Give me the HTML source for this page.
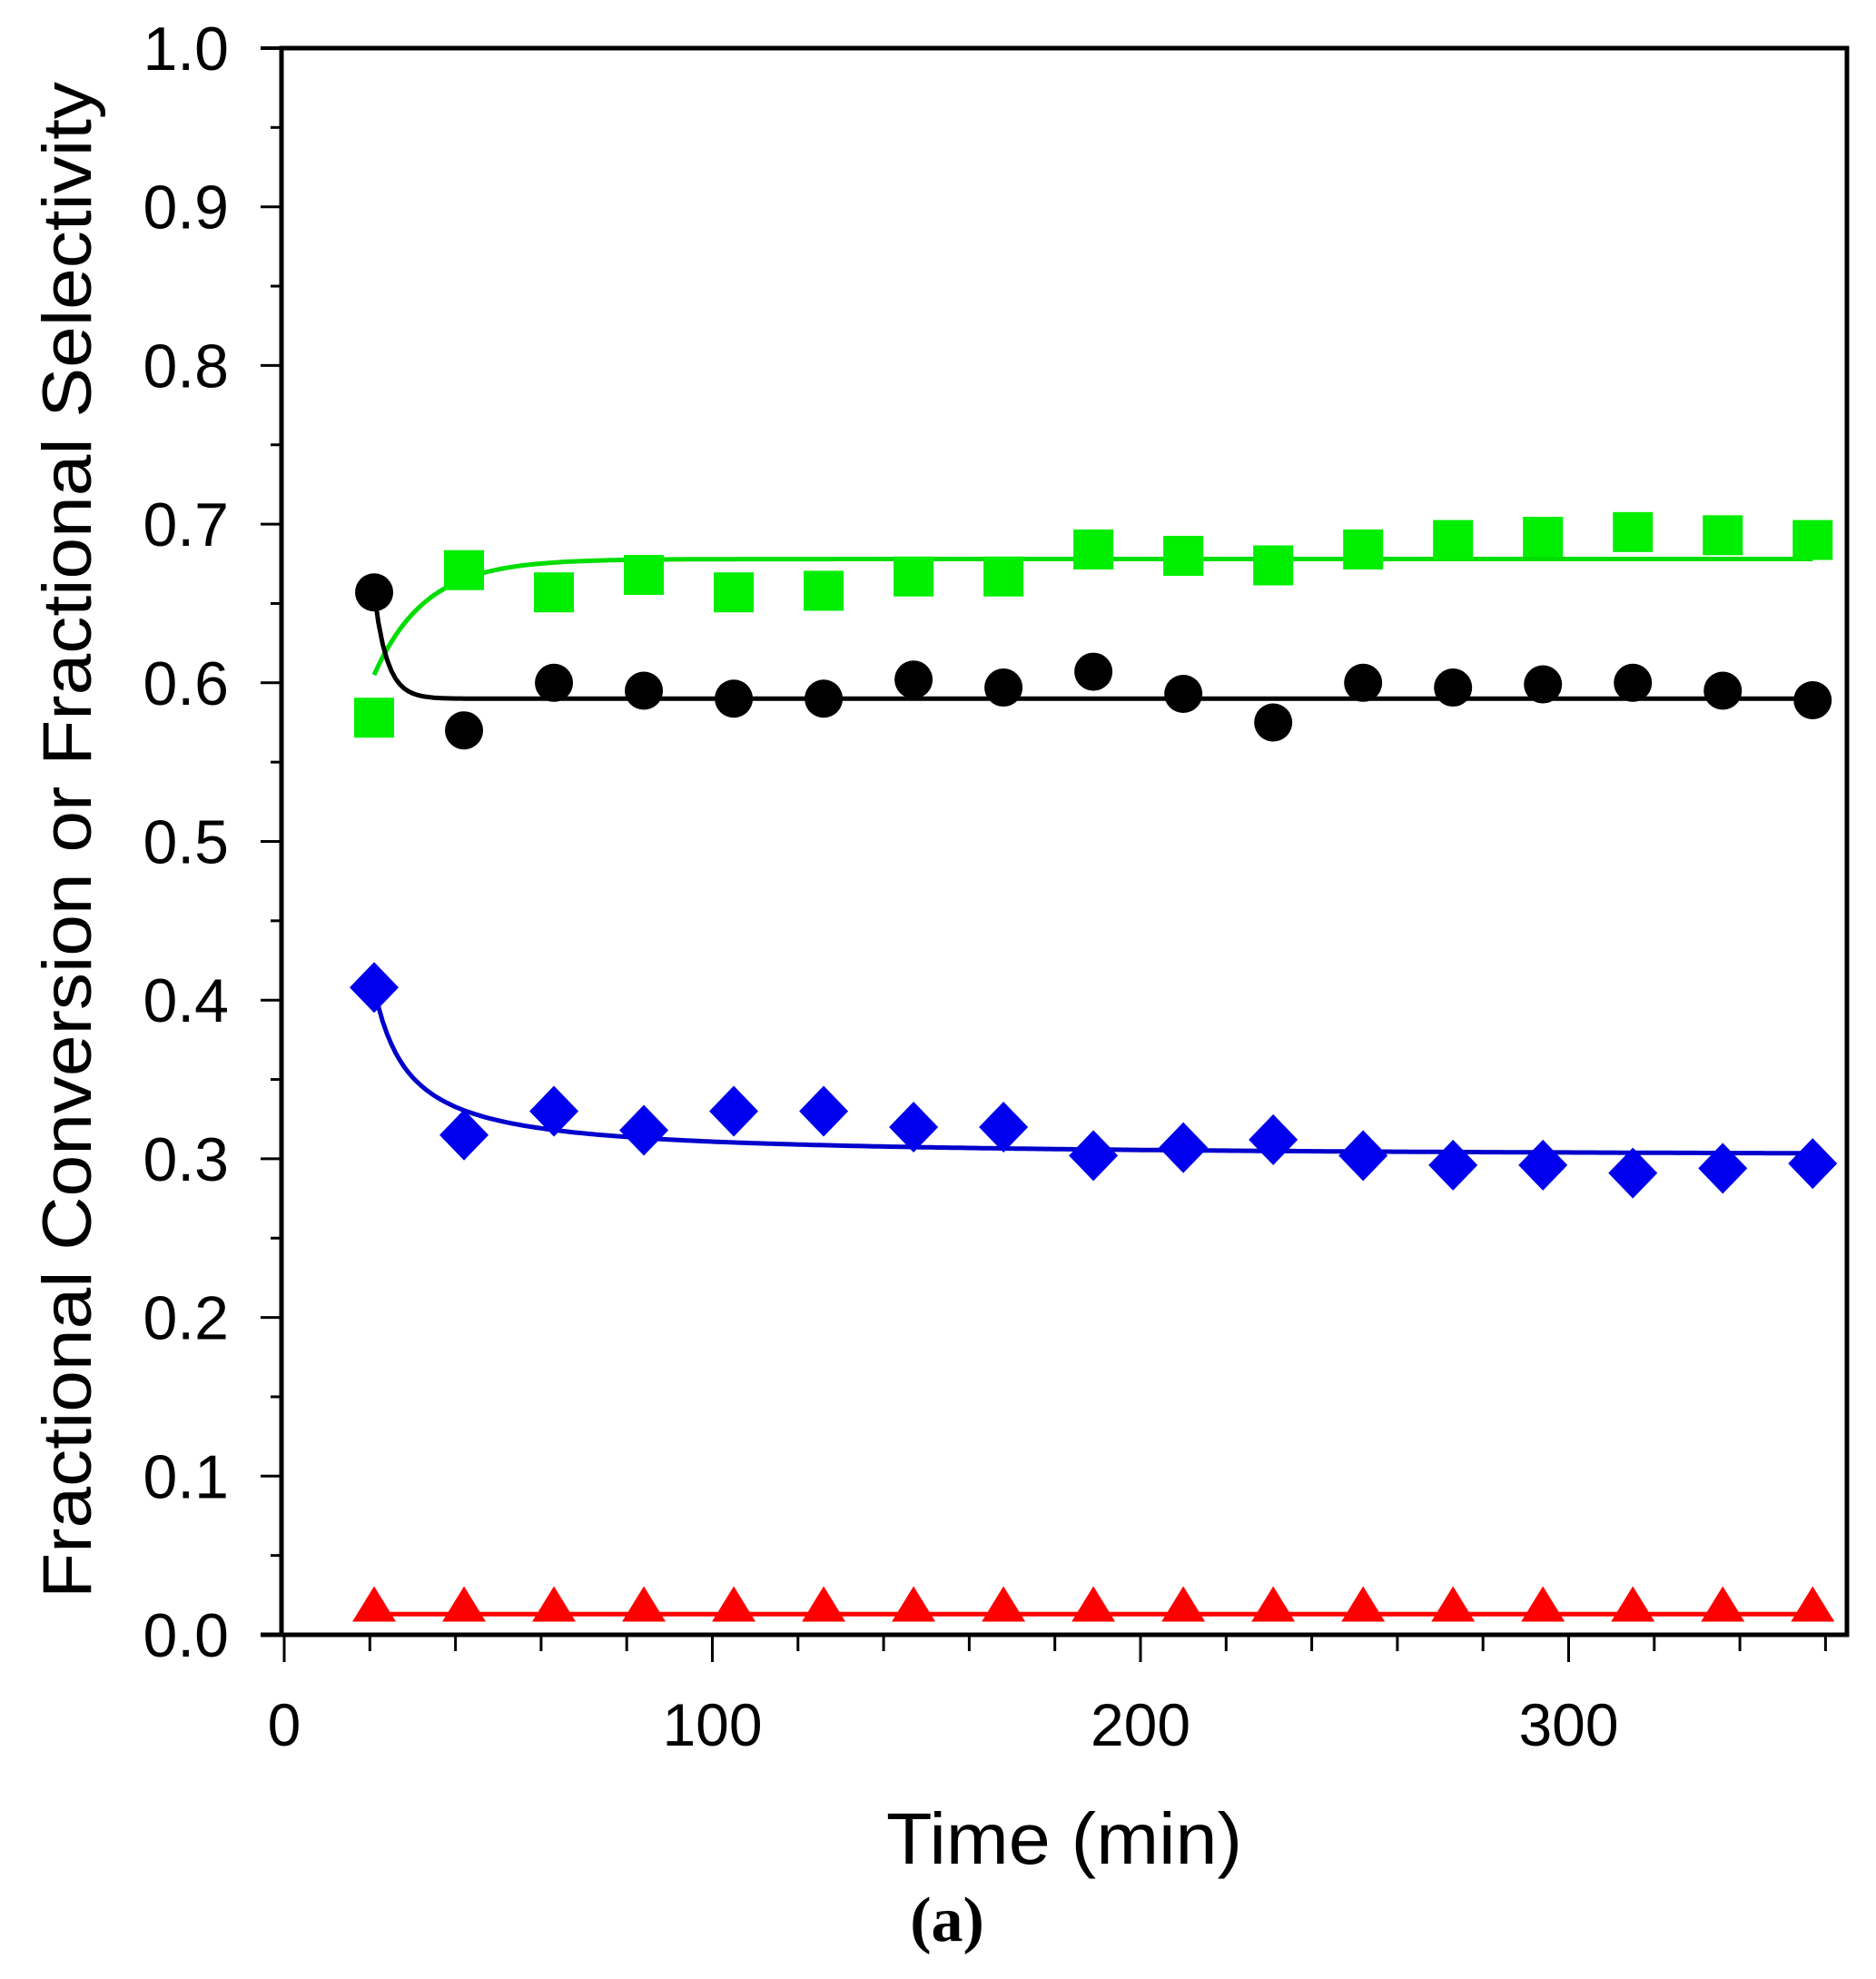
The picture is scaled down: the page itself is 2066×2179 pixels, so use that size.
<!DOCTYPE html>
<html><head><meta charset="utf-8"><style>
html,body{margin:0;padding:0;background:#fff;}
svg{display:block;}
text{font-family:"Liberation Sans",sans-serif;fill:#000;}
</style></head><body>
<svg id="s" width="2066" height="2179" viewBox="0 0 2066 2179" xmlns="http://www.w3.org/2000/svg">
<rect width="2066" height="2179" fill="#fff"/>
<g id="g"></g>
<text x="1172" y="2052" font-size="80" text-anchor="middle" textLength="392" lengthAdjust="spacingAndGlyphs">Time (min)</text>
<text x="1043" y="2137" font-size="70" text-anchor="middle" style="font-family:'Liberation Serif',serif;font-weight:bold">(a)</text>
<text transform="translate(100,925) rotate(-90)" font-size="76" text-anchor="middle" textLength="1670" lengthAdjust="spacingAndGlyphs">Fractional Conversion or Fractional Selectivity</text>
</svg>
<script>
var X=function(t){return 313+t*4.715;};
var Y=function(v){return 1800-v*1747;};
var h='';
h+='<rect x="310" y="53" width="1724" height="1747" fill="none" stroke="#000" stroke-width="5"/>';
h+='<line x1="287" y1="1800" x2="2036" y2="1800" stroke="#000" stroke-width="5"/>';
h+='<line x1="310" y1="53" x2="287" y2="53" stroke="#000" stroke-width="4"/>';
for(var i=0;i<=20;i++){var v=i*0.05,y=Y(v);var L=(i%2==0)?23:12;
 h+='<line x1="310" y1="'+y+'" x2="'+(310-L)+'" y2="'+y+'" stroke="#000" stroke-width="3"/>';
 if(i%2==0){h+='<text x="252" y="'+(y+24)+'" font-size="68" text-anchor="end">'+(v.toFixed(1))+'</text>';}}
for(var t=0;t<=360;t+=20){var x=X(t);var L=(t%100==0)?30:18;
 h+='<line x1="'+x+'" y1="1800" x2="'+x+'" y2="'+(1800+L)+'" stroke="#000" stroke-width="3"/>';
 if(t%100==0){h+='<text x="'+x+'" y="1922" font-size="66" text-anchor="middle">'+t+'</text>';}}
var T=[21,42,63,84,105,126,147,168,189,210,231,252,273,294,315,336,357];
var G=[0.578,0.671,0.657,0.668,0.657,0.658,0.667,0.667,0.684,0.68,0.674,0.684,0.69,0.692,0.695,0.693,0.69];
var K=[0.657,0.57,0.6,0.595,0.59,0.59,0.602,0.597,0.607,0.593,0.575,0.6,0.597,0.599,0.6,0.595,0.589];
var B=[0.408,0.315,0.33,0.318,0.33,0.33,0.32,0.32,0.302,0.307,0.312,0.302,0.296,0.296,0.291,0.294,0.297];
function curve(f,c){var p='';for(var t=21;t<=357;t+=1){p+=(t==21?'M':'L')+X(t).toFixed(1)+','+Y(f(t)).toFixed(1);}
 return '<path d="'+p+'" fill="none" stroke="'+c+'" stroke-width="5"/>';}
h+=curve(function(t){return 0.678-0.073*Math.exp(-(t-21)/12);},'#00dd00');
h+=curve(function(t){return 0.59+0.067*Math.exp(-(t-21)/3);},'#000');
h+=curve(function(t){return 0.301+0.107/(1+(t-21)/8);},'#0000cc');
h+='<line x1="'+X(21)+'" y1="'+Y(0.013)+'" x2="'+X(357)+'" y2="'+Y(0.013)+'" stroke="#ff0000" stroke-width="5"/>';
for(var i=0;i<T.length;i++){var x=X(T[i]);
 var y=Y(G[i]);h+='<rect x="'+(x-22)+'" y="'+(y-22)+'" width="44" height="44" fill="#00ee00"/>';
 y=Y(K[i]);h+='<circle cx="'+x+'" cy="'+y+'" r="21" fill="#000"/>';
 y=Y(B[i]);h+='<polygon points="'+x+','+(y-28)+' '+(x+27)+','+y+' '+x+','+(y+28)+' '+(x-27)+','+y+'" fill="#0000ee"/>';
 y=Y(0.018);h+='<polygon points="'+x+','+(y-22)+' '+(x+24)+','+(y+17)+' '+(x-24)+','+(y+17)+'" fill="#ff0000"/>';}
document.getElementById('g').innerHTML=h;
</script>
</body></html>
